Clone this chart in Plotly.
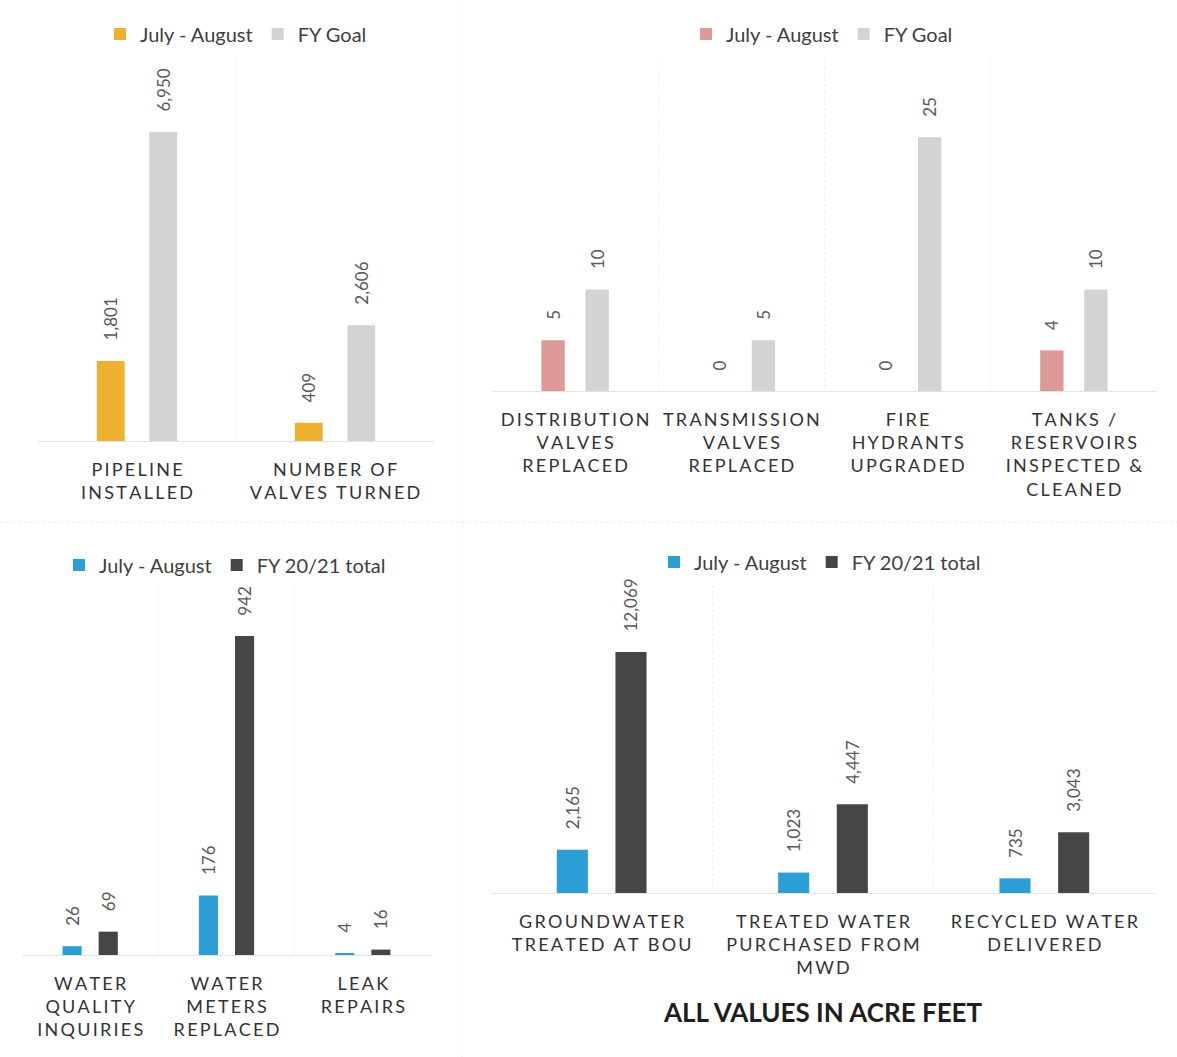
import plotly.graph_objects as go

W, H = 1177, 1057

# ---------------- data ----------------
p1_categories = [["PIPELINE", "INSTALLED"], ["NUMBER OF", "VALVES TURNED"]]
p1_july_aug = [1801, 409]
p1_fy_goal = [6950, 2606]

p2_categories = [["DISTRIBUTION", "VALVES", "REPLACED"],
                 ["TRANSMISSION", "VALVES", "REPLACED"],
                 ["FIRE", "HYDRANTS", "UPGRADED"],
                 ["TANKS /", "RESERVOIRS", "INSPECTED &", "CLEANED"]]
p2_july_aug = [5, 0, 0, 4]
p2_fy_goal = [10, 5, 25, 10]

p3_categories = [["WATER", "QUALITY", "INQUIRIES"],
                 ["WATER", "METERS", "REPLACED"],
                 ["LEAK", "REPAIRS"]]
p3_july_aug = [26, 176, 4]
p3_fy_total = [69, 942, 16]

p4_categories = [["GROUNDWATER", "TREATED AT BOU"],
                 ["TREATED WATER", "PURCHASED FROM", "MWD"],
                 ["RECYCLED WATER", "DELIVERED"]]
p4_july_aug = [2165, 1023, 735]
p4_fy_total = [12069, 4447, 3043]

series_a = "July - August"
series_goal = "FY Goal"
series_total = "FY 20/21 total"
footnote = "ALL VALUES IN ACRE FEET"

# ---------------- style ----------------
ORANGE = "#EDB12F"
LIGHTGRAY = "#D3D3D3"
PINK = "#DC9998"
BLUE = "#2B9ED6"
DARK = "#464646"
FONT = "Lato"
LABEL_COLOR = "#595959"
TICK_COLOR = "#333333"


def spaced(lines):
    # letter-spaced category label lines
    return "<br>".join("\u2009".join(line) for line in lines)


def px_x(a, b):
    return [a / W, b / W]


def px_y(top, bottom):
    return [1 - bottom / H, 1 - top / H]


LEAD = "\u00a0\u00a0\u00a0\u00a0"


def bar(x, y, name, color, xa, ya, legend, showlegend=True):
    return go.Bar(
        x=x, y=y, name=name, marker=dict(color=color, line=dict(width=0)),
        xaxis=xa, yaxis=ya, legend=legend, showlegend=showlegend,
        text=[f"{v:,}" for v in y], texttemplate=LEAD + "%{text}",
        textposition="outside", textangle=-90, constraintext="none",
        cliponaxis=False,
        textfont=dict(family=FONT, size=17, color=LABEL_COLOR),
        hoverinfo="skip",
    )


c1 = [spaced(c) for c in p1_categories]
c2 = [spaced(c) for c in p2_categories]
c3 = [spaced(c) for c in p3_categories]
c4 = [spaced(c) for c in p4_categories]

fig = go.Figure()
fig.add_trace(bar(c1, p1_july_aug, series_a, ORANGE, "x", "y", "legend"))
fig.add_trace(bar(c1, p1_fy_goal, series_goal, LIGHTGRAY, "x", "y", "legend"))
fig.add_trace(bar(c2, p2_july_aug, series_a, PINK, "x2", "y2", "legend2"))
fig.add_trace(bar(c2, p2_fy_goal, series_goal, LIGHTGRAY, "x2", "y2", "legend2"))
fig.add_trace(bar(c3, p3_july_aug, series_a, BLUE, "x3", "y3", "legend3"))
fig.add_trace(bar(c3, p3_fy_total, series_total, DARK, "x3", "y3", "legend3"))
fig.add_trace(bar(c4, p4_july_aug, series_a, BLUE, "x4", "y4", "legend4"))
fig.add_trace(bar(c4, p4_fy_total, series_total, DARK, "x4", "y4", "legend4"))

xcommon = dict(type="category", tickson="boundaries", showgrid=True,
               gridcolor="#efefef", griddash="dot", gridwidth=1,
               showline=True, linecolor="#e4e4e4", linewidth=1,
               ticks="outside", ticklen=12, tickcolor="rgba(0,0,0,0)",
               ticklabelstandoff=12,
               tickfont=dict(family=FONT, size=18, color=TICK_COLOR),
               zeroline=False, fixedrange=True)
ycommon = dict(visible=False, showgrid=False, zeroline=False, fixedrange=True)

fig.update_layout(
    width=W, height=H, margin=dict(l=0, r=0, t=0, b=0),
    template="none", paper_bgcolor="white", plot_bgcolor="rgba(0,0,0,0)",
    barmode="group", bargap=0.47, bargroupgap=0.47,
    font=dict(family=FONT, color="#404040"),
    xaxis=dict(xcommon, domain=px_x(38, 434), anchor="y"),
    yaxis=dict(ycommon, domain=px_y(60, 441), range=[0, 8570], anchor="x"),
    xaxis2=dict(xcommon, domain=px_x(492, 1157), anchor="y2"),
    yaxis2=dict(ycommon, domain=px_y(60, 391), range=[0, 32.6], anchor="x2"),
    xaxis3=dict(xcommon, domain=px_x(22, 431), anchor="y3"),
    yaxis3=dict(ycommon, domain=px_y(585, 955), range=[0, 1093], anchor="x3"),
    xaxis4=dict(xcommon, domain=px_x(491, 1155), anchor="y4"),
    yaxis4=dict(ycommon, domain=px_y(585, 893), range=[0, 15420], anchor="x4"),
)

legend_common = dict(orientation="h", xanchor="left", yanchor="middle",
                     bgcolor="rgba(0,0,0,0)", borderwidth=0,
                     font=dict(family=FONT, size=20, color="#404040"),
                     traceorder="normal")
fig.update_layout(
    legend=dict(legend_common, x=(119 - 19) / W, y=1 - 34 / H),
    legend2=dict(legend_common, x=(705 - 19) / W, y=1 - 34 / H),
    legend3=dict(legend_common, x=(78 - 19) / W, y=1 - 565 / H),
    legend4=dict(legend_common, x=(673 - 19) / W, y=1 - 562 / H),
)

fig.add_annotation(text=footnote, xref="paper", yref="paper",
                   x=823 / W, y=1 - 1012 / H, xanchor="center", yanchor="middle",
                   showarrow=False,
                   font=dict(family=FONT, size=26, color="#1e1e1e", weight="bold"))

# faint scan separators between panels
fig.add_shape(type="line", xref="paper", yref="paper", x0=0, x1=1,
              y0=1 - 522 / H, y1=1 - 522 / H,
              line=dict(color="#ececec", width=1, dash="dot"))
fig.add_shape(type="line", xref="paper", yref="paper", x0=462 / W, x1=462 / W,
              y0=0, y1=1, line=dict(color="#f0f0f0", width=1, dash="dot"))

fig.write_html("out.html")
